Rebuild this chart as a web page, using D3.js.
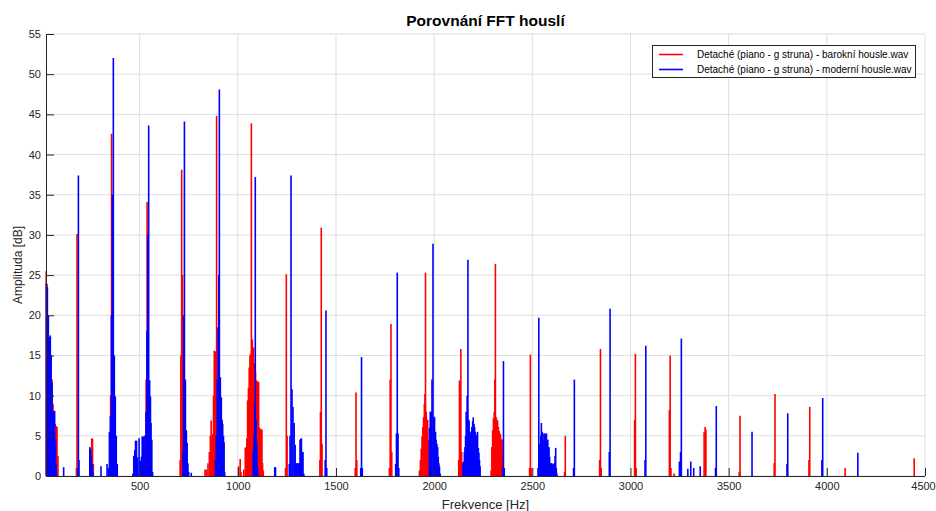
<!DOCTYPE html>
<html>
<head>
<meta charset="utf-8">
<script src="https://cdn.jsdelivr.net/npm/d3@7"></script>
<style>
  body { margin: 0; background: #fff; }
  text { font-family: "Liberation Sans", Arial, sans-serif; }
</style>
</head>
<body>
<div id="chart-area"></div>
<script>
// Porovnani FFT housli - spectrum peaks as [Hz, dB]

var seriesNames = [
    "Detaché (piano - g struna) - barokní housle.wav",
    "Detaché (piano - g struna) - moderní housle.wav"
];
var seriesColors = ["#ff0000", "#0000ff"];

var xTicks = [500, 1000, 1500, 2000, 2500, 3000, 3500, 4000, 4500];
var yTicks = [0, 5, 10, 15, 20, 25, 30, 35, 40, 45, 50, 55];
var xDomain = [23, 4500];
var yDomain = [0, 55];

// barokni housle (red)
var baroque = [
    [24, 25.5], [28, 23.9], [33, 19], [38, 17.2], [44, 17], [49, 15], [54, 12], [59, 9],
    [64, 7], [70, 6.5], [75, 6.2], [79, 6.1], [84, 2.5],
    [178, 1.0], [181, 30.1],
    [256, 4.7], [260, 4.6], [264, 1.5],
    [352, 10], [357, 42.6], [362, 20],
    [524, 5.0], [533, 12], [538, 34.1], [542, 20],
    [706, 2], [710, 15], [714, 38.1], [718, 25], [722, 5],
    [833, 0.8], [840, 0.8], [848, 1.6], [855, 3], [860, 5], [864, 6.9], [868, 4], [872, 5.2],
    [876, 10], [880, 15.6], [886, 15.5], [892, 44.8], [896, 12], [900, 8], [904, 4],
    [1004, 1.2], [1012, 2.1], [1016, 0.5],
    [1030, 0.8], [1038, 3.5], [1042, 3.6], [1046, 4.7], [1050, 9.4], [1054, 11], [1058, 13.5],
    [1062, 15], [1065, 15.2], [1069, 43.9], [1074, 17], [1080, 16], [1085, 14], [1090, 13],
    [1095, 11.9], [1100, 11.8], [1106, 11.7], [1111, 6], [1114, 5.8], [1119, 5.8], [1123, 5.8],
    [1126, 1.6], [1130, 0.7],
    [1243, 1], [1247, 25.1], [1251, 5],
    [1418, 2], [1421, 8], [1425, 30.9], [1429, 4],
    [1598, 1], [1602, 10.4], [1606, 2],
    [1772, 1], [1776, 12], [1780, 18.9], [1784, 3],
    [1925, 0.7], [1930, 2], [1934, 3.4], [1938, 4.9], [1942, 6.1], [1946, 7.3], [1950, 9],
    [1953, 10.2], [1956, 25.3], [1960, 8], [1963, 6.1], [1967, 7], [1970, 4.5], [1973, 3.7], [1977, 1],
    [2125, 2], [2129, 11.9], [2133, 10], [2136, 15.8], [2140, 3], [2143, 1.7],
    [2290, 0.7], [2294, 3.6], [2298, 5.7], [2302, 7.2], [2306, 8], [2309, 12], [2312, 26.4],
    [2316, 7.3], [2320, 7], [2323, 6.9], [2327, 6.1], [2331, 5.6], [2334, 5.3], [2338, 5.2],
    [2342, 4.6], [2346, 4.5], [2350, 2.9],
    [2486, 1], [2490, 15.1], [2494, 1],
    [2664, 0.5], [2668, 5.0],
    [2843, 2], [2847, 15.8], [2851, 1],
    [3021, 7], [3025, 15.2], [3029, 1],
    [3198, 8.2], [3202, 15.0], [3206, 1], [3222, 0.3],
    [3375, 5.5], [3380, 6.1], [3384, 5.8],
    [3554, 0.5], [3558, 7.5],
    [3732, 1.6], [3736, 10.2],
    [3909, 2], [3913, 8.6],
    [4093, 1.0],
    [4445, 2.2]
];

// moderni housle (blue)
var modern = [
    [25, 24], [30, 23.5], [35, 20], [40, 17.3], [45, 17.5], [49, 15], [54, 11.6], [57, 8.0],
    [62, 8.1], [67, 8.1], [71, 4.5], [75, 1.5],
    [113, 1.1],
    [185, 1.0], [188, 37.4], [191, 2],
    [246, 3.6], [250, 3.4], [254, 2.5], [258, 1.5], [262, 0.6],
    [303, 1.2], [334, 1.5],
    [341, 1.0], [346, 5.5], [351, 7.5], [356, 20], [361, 35], [366, 52], [371, 15], [376, 9.9],
    [381, 5], [386, 1.5],
    [466, 0.3], [470, 2.5], [475, 3.2], [479, 4.4], [484, 4.4], [490, 2.3], [497, 4.7], [503, 1.9],
    [509, 2.4], [513, 4.9], [518, 4.9], [522, 4.0], [527, 5.0], [532, 8], [537, 18], [541, 30],
    [546, 43.6], [551, 11.9], [555, 9.9], [558, 6.6], [562, 4.5], [566, 0.5],
    [721, 3], [724, 20], [728, 44.1], [733, 12], [738, 5.7], [742, 4.1], [746, 1.6], [750, 0.5],
    [763, 0.4],
    [886, 2], [890, 5], [895, 12], [899, 18.5], [903, 25], [906, 48.1], [911, 12.3], [916, 9.8],
    [920, 7], [923, 6.5], [927, 5], [930, 4.2], [933, 0.5],
    [1078, 3], [1082, 5], [1086, 9], [1089, 37.2], [1093, 7], [1097, 4], [1101, 1],
    [1188, 1.1], [1192, 1.1],
    [1262, 1.5], [1266, 5], [1271, 37.4], [1276, 10.8], [1281, 8.6], [1287, 6.6], [1292, 3.9],
    [1297, 1.6], [1302, 1.6], [1308, 1.6], [1313, 1.6], [1317, 4.5], [1320, 4.6], [1324, 4.7],
    [1328, 2.9], [1332, 3.0], [1336, 0.3],
    [1445, 2], [1449, 20.6], [1453, 1],
    [1626, 1], [1630, 14.8], [1634, 1],
    [1804, 1.5], [1808, 5.3], [1812, 25.3], [1816, 5.3], [1820, 1],
    [1976, 6], [1980, 8], [1985, 8], [1989, 12], [1994, 28.9], [1998, 7.4], [2002, 7.3],
    [2007, 5.5], [2010, 4.5], [2014, 4], [2018, 3.6], [2021, 2.4], [2024, 1.6], [2027, 1.2], [2031, 0.3],
    [2147, 1.5], [2150, 1.8], [2154, 3], [2157, 3.6], [2160, 5], [2163, 8], [2168, 10],
    [2172, 26.9], [2175, 7], [2178, 6.9], [2182, 5.5], [2185, 5.2], [2189, 5.5], [2192, 6.1],
    [2196, 6.8], [2199, 7.3], [2203, 6.5], [2206, 6.1], [2209, 5.5], [2212, 5.2], [2217, 5],
    [2221, 5.5], [2225, 3.5], [2228, 2.9], [2231, 2], [2234, 1.2],
    [2349, 1], [2353, 14.3], [2357, 1],
    [2529, 1], [2533, 19.7], [2537, 4], [2540, 3.6], [2543, 5], [2546, 6.6], [2550, 5.5],
    [2553, 5.3], [2557, 4.5], [2560, 5.3], [2563, 5], [2565, 5.3], [2568, 4.2], [2572, 5.3],
    [2575, 4.5], [2579, 4.5], [2582, 3.5], [2585, 3.6], [2588, 2.4], [2592, 1.6], [2596, 1.3],
    [2599, 1.6], [2603, 1.4], [2606, 1.5], [2610, 1.4], [2612, 1.6], [2616, 2.5], [2619, 3.5],
    [2622, 1], [2625, 0.3],
    [2710, 1], [2714, 12.0],
    [2892, 3], [2896, 20.8],
    [3074, 2], [3078, 16.2],
    [3249, 1.8], [3255, 3], [3259, 17.1], [3292, 0.9], [3307, 1.8], [3322, 1.0], [3355, 1.2],
    [3433, 1], [3437, 8.7],
    [3619, 5.5],
    [3797, 1.5], [3801, 7.8],
    [3975, 2], [3979, 9.7],
    [4158, 2.9]
];

var allSeries = [baroque, modern];

var margin = { left: 46, right: 11, top: 34, bottom: 35 };
var width = 936 - margin.left - margin.right,
    height = 511 - margin.top - margin.bottom;

var svg = d3.select("#chart-area")
    .append("svg")
    .attr("width", 936)
    .attr("height", 511);

var g = svg.append("g")
    .attr("transform", "translate(" + margin.left + ", " + margin.top + ")");

var x = d3.scaleLinear().domain(xDomain).range([0, width]);
var y = d3.scaleLinear().domain(yDomain).range([height, 0]);

// grid
g.append("g").selectAll("line")
    .data(xTicks)
    .enter().append("line")
    .attr("x1", function (d) { return x(d); })
    .attr("x2", function (d) { return x(d); })
    .attr("y1", 0)
    .attr("y2", height)
    .attr("stroke", "#dedede")
    .attr("stroke-width", 1);

g.append("g").selectAll("line")
    .data(yTicks)
    .enter().append("line")
    .attr("x1", 0)
    .attr("x2", width)
    .attr("y1", function (d) { return y(d); })
    .attr("y2", function (d) { return y(d); })
    .attr("stroke", "#dedede")
    .attr("stroke-width", 1);

// spectra drawn as stems, baroque first, modern on top
allSeries.forEach(function (data, i) {
    g.append("g")
        .selectAll("line")
        .data(data)
        .enter().append("line")
        .attr("x1", function (d) { return x(d[0]); })
        .attr("x2", function (d) { return x(d[0]); })
        .attr("y1", y(0))
        .attr("y2", function (d) { return y(d[1]); })
        .attr("stroke", seriesColors[i])
        .attr("stroke-width", 1.6);
});

// axes (ticks pointing inside, like matlab)
var xAxisCall = d3.axisBottom(x)
    .tickValues(xTicks)
    .tickSize(-8)
    .tickPadding(6)
    .tickFormat(d3.format("d"));
var xAxis = g.append("g")
    .attr("class", "x axis")
    .attr("transform", "translate(0, " + height + ")")
    .call(xAxisCall);

var yAxisCall = d3.axisLeft(y)
    .tickValues(yTicks)
    .tickSize(-8)
    .tickPadding(5)
    .tickFormat(d3.format("d"));
var yAxis = g.append("g")
    .attr("class", "y axis")
    .call(yAxisCall);

[xAxis, yAxis].forEach(function (a) {
    a.select(".domain").attr("stroke", "#262626");
    a.selectAll(".tick line").attr("stroke", "#262626");
    a.selectAll(".tick text")
        .attr("fill", "#262626")
        .attr("font-size", "11px")
        .attr("font-family", "Liberation Sans, Arial, sans-serif");
});
xAxis.select(".domain").attr("d", "M0.5,0.5H" + width);
yAxis.select(".domain").attr("d", "M0.5," + height + "V0.5");
// last label sits right at the window edge
xAxis.selectAll(".tick text")
    .filter(function (d) { return d === xDomain[1]; })
    .attr("dx", -2);

// labels
svg.append("text")
    .attr("x", margin.left + width / 2)
    .attr("y", 26)
    .attr("text-anchor", "middle")
    .attr("font-size", "15.5px")
    .attr("font-weight", "bold")
    .attr("fill", "#000")
    .text("Porovnání FFT houslí");

svg.append("text")
    .attr("x", margin.left + width / 2)
    .attr("y", 509)
    .attr("text-anchor", "middle")
    .attr("font-size", "13px")
    .attr("fill", "#262626")
    .text("Frekvence [Hz]");

svg.append("text")
    .attr("x", -265)
    .attr("y", 22)
    .attr("text-anchor", "middle")
    .attr("font-size", "12px")
    .attr("fill", "#262626")
    .attr("transform", "rotate(-90)")
    .text("Amplituda [dB]");

// legend
var legend = svg.append("g")
    .attr("transform", "translate(652, 45)");

legend.append("rect")
    .attr("x", 0.5)
    .attr("y", 0.5)
    .attr("width", 263)
    .attr("height", 32)
    .attr("fill", "#fff")
    .attr("stroke", "#262626")
    .attr("stroke-width", 1);

var rows = legend.selectAll(".row")
    .data(seriesNames)
    .enter().append("g")
    .attr("class", "row")
    .attr("transform", function (d, i) { return "translate(0, " + (9.5 + i * 15) + ")"; });

rows.append("line")
    .attr("x1", 7)
    .attr("x2", 31)
    .attr("y1", 0)
    .attr("y2", 0)
    .attr("stroke", function (d, i) { return seriesColors[i]; })
    .attr("stroke-width", 1.6);

rows.append("text")
    .attr("x", 45)
    .attr("y", 3.5)
    .attr("font-size", "10px")
    .attr("fill", "#000")
    .text(function (d) { return d; });
</script>
</body>
</html>
